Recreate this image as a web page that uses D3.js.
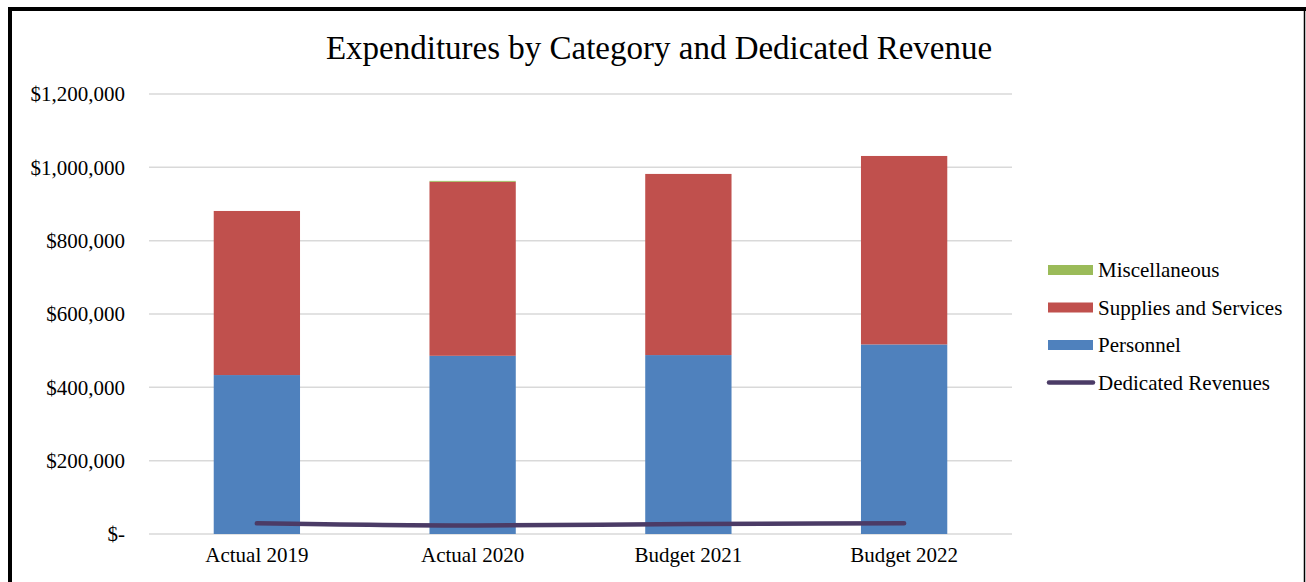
<!DOCTYPE html>
<html>
<head>
<meta charset="utf-8">
<script src="https://cdn.jsdelivr.net/npm/d3@7"></script>
<style>
  html, body { margin: 0; padding: 0; background: #fff; }
  svg { display: block; font-family: "Liberation Serif", "Times New Roman", serif; }
</style>
</head>
<body>
<svg id="chart" width="1306" height="582"></svg>
<script>
// Fiscal periods shown on the x axis
const categories = ["Actual 2019", "Actual 2020", "Budget 2021", "Budget 2022"];

// Expenditure categories (stacked bars, bottom to top)
const personnel = [433500, 486000, 488000, 517000];
const suppliesServices = [447500, 474500, 494000, 514000];
const miscellaneous = [0, 2500, 0, 0];

// Dedicated revenue (line)
const dedicatedRevenues = [29000, 23000, 27500, 29000];

// Y axis ticks
const yTicks = [0, 200000, 400000, 600000, 800000, 1000000, 1200000];

const series = [
  { key: "Personnel", values: personnel, color: "#4F81BD" },
  { key: "Supplies and Services", values: suppliesServices, color: "#C0504D" },
  { key: "Miscellaneous", values: miscellaneous, color: "#9BBB59" }
];
const lineColor = "#4B3B66";

const svg = d3.select("#chart");
const W = 1306, H = 582;

// Frame
svg.append("line").attr("x1", 8).attr("x2", W).attr("y1", 9).attr("y2", 9)
  .attr("stroke", "#000").attr("stroke-width", 4);
svg.append("line").attr("x1", 10).attr("x2", 10).attr("y1", 7).attr("y2", H)
  .attr("stroke", "#000").attr("stroke-width", 4);
svg.append("line").attr("x1", 1304.5).attr("x2", 1304.5).attr("y1", 9).attr("y2", H)
  .attr("stroke", "#000").attr("stroke-width", 1.5);

// Title
svg.append("text")
  .attr("x", 659).attr("y", 59)
  .attr("text-anchor", "middle")
  .attr("font-size", 33)
  .attr("fill", "#000")
  .text("Expenditures by Category and Dedicated Revenue");

const plot = { left: 149, right: 1012, top: 94, bottom: 534 };

const x = d3.scaleBand().domain(categories)
  .range([plot.left, plot.right]).paddingInner(0.6).paddingOuter(0.3);
const y = d3.scaleLinear().domain([0, 1200000]).range([plot.bottom, plot.top]);

// Gridlines
svg.append("g").selectAll("line").data(yTicks).join("line")
  .attr("x1", plot.left).attr("x2", plot.right)
  .attr("y1", d => y(d)).attr("y2", d => y(d))
  .attr("stroke", "#D9D9D9").attr("stroke-width", 1.5);

// Y axis labels
const fmt = d => d === 0 ? "$-" : "$" + d3.format(",")(d);
const yAxis = d3.axisLeft(y).tickValues(yTicks).tickFormat(fmt).tickSize(0).tickPadding(24);
const gy = svg.append("g").attr("transform", `translate(${plot.left},0)`).call(yAxis);
gy.select(".domain").remove();
gy.selectAll("text").attr("font-size", 21).attr("fill", "#000")
  .attr("font-family", "Liberation Serif, Times New Roman, serif");

// X axis labels
const xAxis = d3.axisBottom(x).tickSize(0).tickPadding(13);
const gx = svg.append("g").attr("transform", `translate(0,${plot.bottom})`).call(xAxis);
gx.select(".domain").remove();
gx.selectAll("text").attr("font-size", 21).attr("fill", "#000")
  .attr("font-family", "Liberation Serif, Times New Roman, serif");

// Stacked bars
const rows = categories.map((c, i) => {
  const r = { category: c };
  series.forEach(s => { r[s.key] = s.values[i]; });
  return r;
});
const stack = d3.stack().keys(series.map(s => s.key))(rows);
svg.append("g").selectAll("g").data(stack).join("g")
  .attr("fill", (d, i) => series[i].color)
  .selectAll("rect").data(d => d).join("rect")
  .attr("x", d => x(d.data.category))
  .attr("width", x.bandwidth())
  .attr("y", d => y(d[1]))
  .attr("height", d => Math.max(0, y(d[0]) - y(d[1])));

// Dedicated revenues line
const line = d3.line()
  .x((d, i) => x(categories[i]) + x.bandwidth() / 2)
  .y(d => y(d))
  .curve(d3.curveMonotoneX);
svg.append("path").datum(dedicatedRevenues)
  .attr("d", line)
  .attr("fill", "none")
  .attr("stroke", lineColor)
  .attr("stroke-width", 4.5)
  .attr("stroke-linecap", "round");

// Legend
const legendItems = [
  { label: "Miscellaneous", color: "#9BBB59", type: "rect" },
  { label: "Supplies and Services", color: "#C0504D", type: "rect" },
  { label: "Personnel", color: "#4F81BD", type: "rect" },
  { label: "Dedicated Revenues", color: lineColor, type: "line" }
];
const lg = svg.append("g").attr("transform", "translate(1048,270)");
const item = lg.selectAll("g").data(legendItems).join("g")
  .attr("transform", (d, i) => `translate(0,${i * 37.5})`);
item.filter(d => d.type === "rect").append("rect")
  .attr("x", 0).attr("y", -5).attr("width", 45).attr("height", 10)
  .attr("fill", d => d.color);
item.filter(d => d.type === "line").append("line")
  .attr("x1", 1).attr("x2", 45).attr("y1", 0).attr("y2", 0)
  .attr("stroke", d => d.color).attr("stroke-width", 4.5).attr("stroke-linecap", "round");
item.append("text")
  .attr("x", 50).attr("y", 0).attr("dy", "0.35em")
  .attr("font-size", 21).attr("fill", "#000")
  .text(d => d.label);
</script>
</body>
</html>
